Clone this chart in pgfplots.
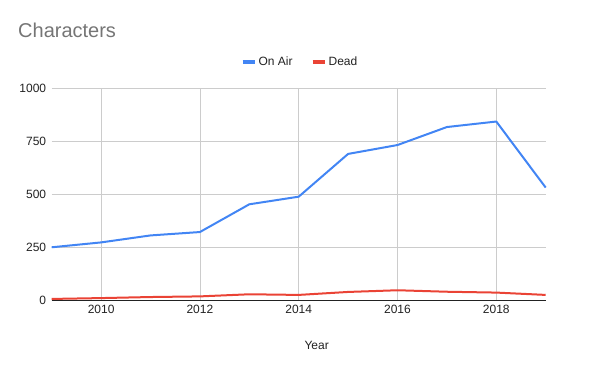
\documentclass[border=0pt]{standalone}
\usepackage{pgfplots}
\pgfplotsset{compat=1.18}
\usepackage{fontspec}
\setmainfont{Liberation Sans}
\definecolor{gblue}{HTML}{4285F4}
\definecolor{gred}{HTML}{EA4335}
\definecolor{ggrid}{HTML}{CCCCCC}
\definecolor{gtitle}{HTML}{757575}
\definecolor{gtext}{HTML}{222222}
\begin{document}
\begin{tikzpicture}[x=1pt,y=1pt]
\path[use as bounding box] (0,0) rectangle (600,371);
\node[anchor=base west, font=\fontsize{20}{22}\selectfont, text=gtitle, inner sep=0] at (18,333) {Characters};
\begin{axis}[
  at={(51.7pt,71pt)}, anchor=south west,
  scale only axis, width=494pt, height=211.7pt,
  xmin=2009, xmax=2019, ymin=0, ymax=1000,
  xtick={2010,2012,2014,2016,2018},
  ytick={0,250,500,750,1000},
  grid=major, major grid style={ggrid, line width=0.8pt},
  major tick length=0pt,
  axis x line*=bottom, axis y line*=left,
  x axis line style={gtext, line width=0.9pt, -},
  y axis line style={draw=none},
  /pgf/number format/assume math mode=true,
  x tick label style={/pgf/number format/1000 sep={}, font=\fontsize{12}{14}\selectfont, text=gtext, yshift=-2pt},
  y tick label style={/pgf/number format/1000 sep={}, font=\fontsize{12}{14}\selectfont, text=gtext, xshift=-2pt},
  xlabel={Year},
  xlabel style={at={(axis description cs:0.5364,-0.2126)}, anchor=center, font=\fontsize{12}{14}\selectfont, text=gtext},
  legend columns=2,
  legend style={at={(axis description cs:0.5026,1.124)}, anchor=center, draw=none, fill=none,
    font=\fontsize{12}{14}\selectfont, text=gtext,
    /tikz/every even column/.append style={column sep=16pt}},
  legend image code/.code={\draw[line width=4pt] (0pt,0pt) -- (12pt,0pt);},
  clip=false,
]
\addplot[gblue, line width=2pt, line join=round] coordinates {
(2009,249) (2010,272) (2011,305) (2012,321) (2013,452) (2014,488)
(2015,690) (2016,732) (2017,817) (2018,843) (2019,531)};
\addlegendentry{On Air}
\addplot[gred, line width=2pt, line join=round] coordinates {
(2009,5) (2010,9) (2011,14) (2012,17) (2013,27) (2014,24)
(2015,38) (2016,46) (2017,39) (2018,35) (2019,24)};
\addlegendentry{Dead}
\end{axis}
\end{tikzpicture}
\end{document}
